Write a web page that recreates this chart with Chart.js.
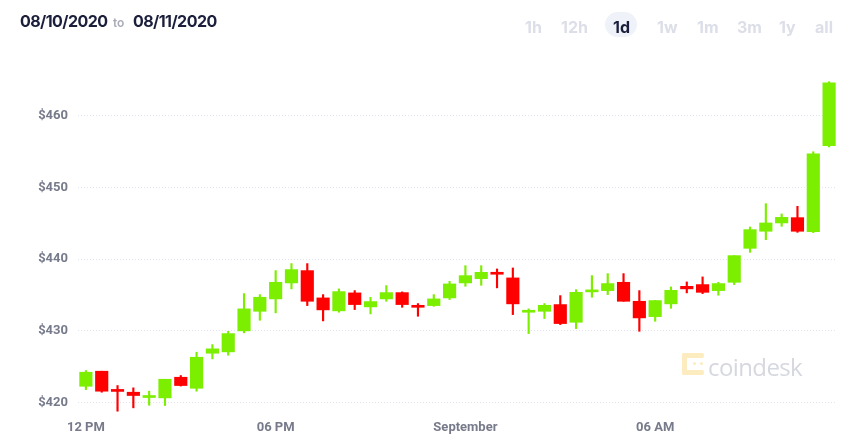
<!DOCTYPE html>
<html>
<head>
<meta charset="utf-8">
<script src="https://cdn.jsdelivr.net/npm/chart.js@4.4.1/dist/chart.umd.min.js"></script>
<style>
  html, body { margin:0; padding:0; background:#fff; }
  #wrap { position:relative; width:862px; height:444px; overflow:hidden; }
  #c { position:absolute; left:0; top:0; }
  .hdr { position:absolute; font-family: Inter, "Noto Sans", sans-serif; font-weight:700; white-space:nowrap; line-height:1; }
  .date { top:13px; font-size:16px; color:#1b1f3b; letter-spacing:-0.55px; }
  .to { top:17px; left:113px; font-size:12px; color:#a9abb8; font-weight:600; }
  .btn { top:19px; font-size:16px; color:#dcdee8; }
  .pill { position:absolute; left:605px; top:12px; width:32px; height:25px; border-radius:13px; background:#eff2f8; }
  .wm { position:absolute; left:682px; top:351px; height:28px; }
  .wm .ic { position:absolute; left:0; top:2px; width:22px; height:22px; }
  .wm .ic i { position:absolute; background:#fdecc0; border-radius:2px; }
  .wm .tx { position:absolute; left:26px; top:-1px; font-family: "Open Sans", sans-serif; font-size:24px; color:#d6d8df; letter-spacing:-0.6px; }
</style>
</head>
<body>
<div id="wrap">
  <canvas id="c" width="862" height="444"></canvas>
  <div class="hdr date" style="left:20px">08/10/2020</div>
  <div class="hdr to">to</div>
  <div class="hdr date" style="left:133px">08/11/2020</div>
  <div class="pill"></div>
  <div class="hdr btn" style="left:525px">1h</div>
  <div class="hdr btn" style="left:561px">12h</div>
  <div class="hdr btn" style="left:613px;color:#1b1f3b">1d</div>
  <div class="hdr btn" style="left:657px">1w</div>
  <div class="hdr btn" style="left:697px">1m</div>
  <div class="hdr btn" style="left:737px">3m</div>
  <div class="hdr btn" style="left:779px">1y</div>
  <div class="hdr btn" style="left:815px">all</div>
  <div class="wm">
    <div class="ic">
      <i style="left:0;top:0;width:22px;height:5px"></i>
      <i style="left:0;top:0;width:5px;height:22px"></i>
      <i style="left:0;top:17px;width:22px;height:5px"></i>
      <i style="left:11px;top:9px;width:3px;height:3px"></i>
      <i style="left:18px;top:9px;width:3px;height:3px"></i>
    </div>
    <div class="tx">coindesk</div>
  </div>
</div>
<script>
const categories = [
  "12:00 PM","12:30 PM","1:00 PM","1:30 PM","2:00 PM","2:30 PM","3:00 PM","3:30 PM",
  "4:00 PM","4:30 PM","5:00 PM","5:30 PM","6:00 PM","6:30 PM","7:00 PM","7:30 PM",
  "8:00 PM","8:30 PM","9:00 PM","9:30 PM","10:00 PM","10:30 PM","11:00 PM","11:30 PM",
  "12:00 AM","12:30 AM","1:00 AM","1:30 AM","2:00 AM","2:30 AM","3:00 AM","3:30 AM",
  "4:00 AM","4:30 AM","5:00 AM","5:30 AM","6:00 AM","6:30 AM","7:00 AM","7:30 AM",
  "8:00 AM","8:30 AM","9:00 AM","9:30 AM","10:00 AM","10:30 AM","11:00 AM","11:30 AM"
];
const openV = [
  422.27,424.37,421.62,421.44,420.70,420.65,423.53,421.99,
  426.88,427.07,430.00,432.73,434.46,436.69,438.41,434.60,
  432.79,435.30,433.35,434.46,435.34,433.53,433.53,434.60,
  436.69,437.29,438.00,437.39,432.60,432.73,433.67,431.20,
  435.44,435.62,436.78,434.13,431.99,433.77,436.22,436.46,
  435.62,436.78,441.52,443.90,445.06,445.80,443.85,455.84
];
const highV = [
  424.46,424.37,422.37,422.05,421.58,423.25,423.77,427.02,
  428.09,429.94,435.20,435.06,438.41,439.39,439.39,435.06,
  435.86,435.62,434.69,436.32,435.44,433.81,435.06,436.92,
  439.10,439.10,438.64,438.78,433.07,433.81,434.92,435.76,
  437.71,437.99,437.99,435.62,434.23,436.13,436.83,437.53,
  436.78,440.50,444.50,447.75,446.32,447.38,455.00,464.77
];
const lowV = [
  421.81,421.44,418.79,419.26,419.62,419.58,422.30,421.58,
  426.09,426.60,429.72,431.48,432.51,435.86,433.53,431.39,
  432.60,432.97,432.37,434.13,433.29,432.04,433.43,434.37,
  436.22,436.36,436.00,432.27,429.62,431.72,430.88,430.32,
  434.69,435.06,434.13,429.94,431.34,433.15,435.30,435.20,
  434.97,436.46,440.96,442.73,444.59,443.75,443.71,455.66
];
const closeV = [
  424.23,421.58,421.55,420.98,420.76,423.25,422.37,426.32,
  427.49,429.62,433.07,434.69,436.78,438.55,434.13,432.93,
  435.48,433.67,434.09,435.34,433.67,433.29,434.46,436.55,
  437.71,438.17,437.90,433.77,432.70,433.57,431.02,435.38,
  435.72,436.60,434.13,431.81,434.23,435.66,435.86,435.38,
  436.60,440.50,444.13,445.06,445.84,443.90,454.69,464.63
];
const yTicks = [420, 430, 440, 450, 460];
const xTickIndex = [0, 12, 24, 36];
const xTickText = ["12 PM", "06 PM", "September", "06 AM"];

const GREEN = '#7cee00', RED = '#fe0000';
const bodyData = categories.map((c, i) => [openV[i], closeV[i]]);
const wickData = categories.map((c, i) => [lowV[i], highV[i]]);
const colors = categories.map((c, i) => closeV[i] >= openV[i] ? GREEN : RED);

const axisFont = { family: 'Roboto, "Liberation Sans", sans-serif', size: 13, weight: 'bold' };

new Chart(document.getElementById('c'), {
  type: 'bar',
  data: {
    labels: categories,
    datasets: [
      { label: 'body', data: bodyData, backgroundColor: colors, borderWidth: 0,
        barThickness: 12.5, minBarLength: 2, grouped: false, borderSkipped: false },
      { label: 'wick', data: wickData, backgroundColor: colors, borderWidth: 0,
        barThickness: 1.5, grouped: false, borderSkipped: false }
    ]
  },
  options: {
    responsive: false,
    animation: false,
    devicePixelRatio: 1,
    layout: { padding: { top: 60, right: 25, bottom: 0, left: 0 } },
    plugins: { legend: { display: false }, tooltip: { enabled: false } },
    scales: {
      x: {
        offset: true,
        grid: { display: false, drawTicks: false },
        border: { display: false },
        ticks: {
          autoSkip: false, maxRotation: 0, minRotation: 0, padding: 6,
          color: '#777a8a', font: axisFont,
          callback: function(v, i) { const k = xTickIndex.indexOf(i); return k >= 0 ? xTickText[k] : ''; }
        },
        afterFit: s => { s.height = 30; }
      },
      y: {
        min: 418.40, max: 467.80,
        grid: { color: '#e2e2f0', lineWidth: 1, drawTicks: false },
        border: { display: false, dash: [1, 2] },
        ticks: { padding: 10, color: '#777a8a', font: axisFont,
                 callback: v => '$' + v },
        afterBuildTicks: s => { s.ticks = yTicks.map(v => ({ value: v })); },
        afterFit: s => { s.width = 78; }
      }
    }
  }
});
</script>
</body>
</html>
